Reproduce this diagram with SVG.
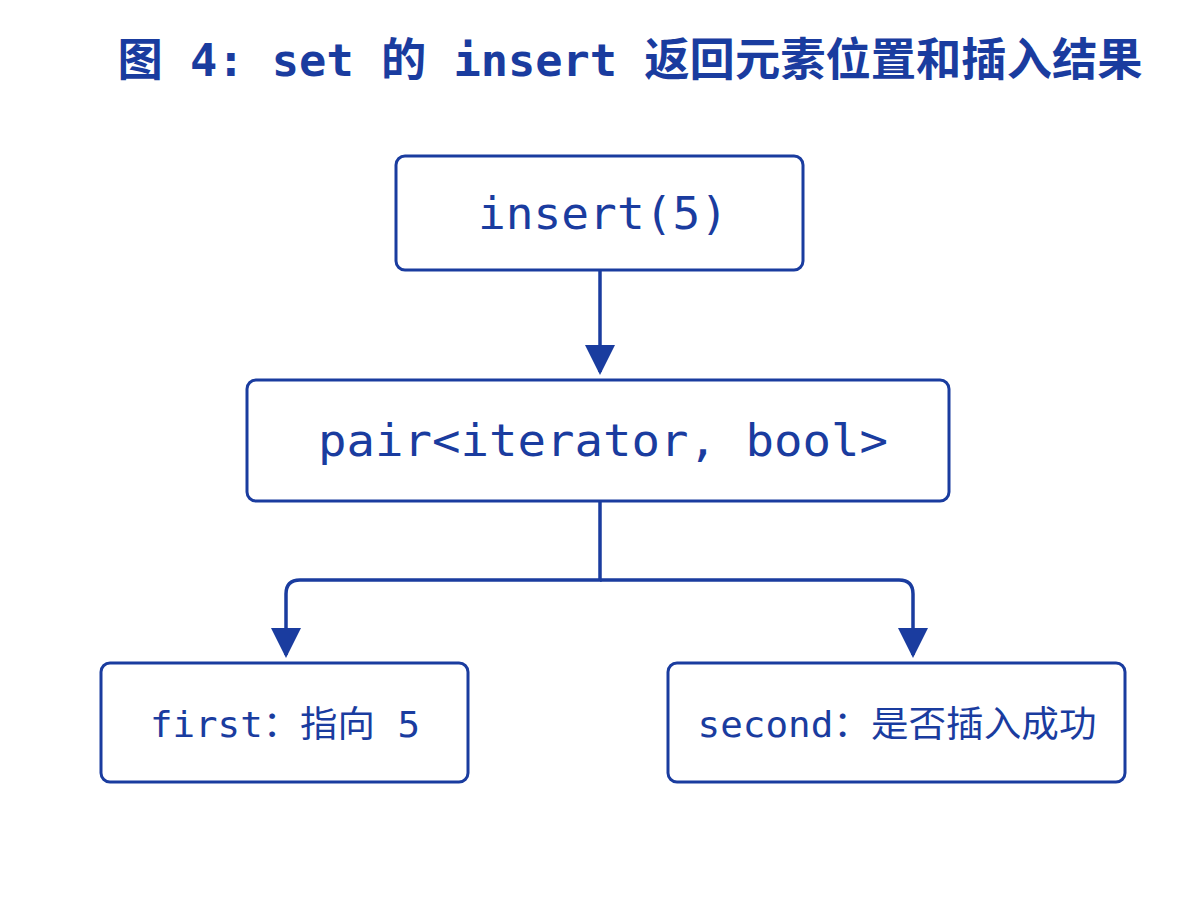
<svg xmlns="http://www.w3.org/2000/svg" width="1200" height="900" viewBox="0 0 1200 900">
<style>
.box{fill:#fff;stroke:#1a3c9f;stroke-width:3}
.t{fill:#1a3c9f;font-family:"DejaVu Sans Mono","Noto Sans CJK SC",monospace;text-anchor:middle;dominant-baseline:central}
.c{fill:none;stroke:#1a3c9f;stroke-width:3.5}
</style>
<defs>
<marker id="b" viewBox="0 0 10 10" refX="9" refY="5" markerWidth="34" markerHeight="30" orient="auto" markerUnits="userSpaceOnUse"><path d="M0,0L10,5L0,10z" fill="#1a3c9f"/></marker></defs>
<rect width="1200" height="900" fill="#fff"/>
<text class="t" x="630" y="60" font-size="45" font-weight="bold" textLength="1025" lengthAdjust="spacingAndGlyphs">图 4: set 的 insert 返回元素位置和插入结果</text>
<g id="connectors">
<path class="c" d="M600,270V372" marker-end="url(#b)"/>
<path class="c" d="M600,501V580H300Q286,580 286,594V655" marker-end="url(#b)"/>
<path class="c" d="M600,580H899Q913,580 913,594V655" marker-end="url(#b)"/>
</g>
<g id="n1"><rect class="box" x="396" y="156" width="407" height="114" rx="9"/><text class="t" x="603" y="213" font-size="44" textLength="250" lengthAdjust="spacingAndGlyphs">insert(5)</text></g>
<g id="n2"><rect class="box" x="247" y="380" width="702" height="121" rx="9"/><text class="t" x="603" y="440" font-size="44" textLength="570" lengthAdjust="spacingAndGlyphs">pair&lt;iterator, bool&gt;</text></g>
<g id="n3"><rect class="box" x="101" y="663" width="367" height="119" rx="9"/><text class="t" x="285" y="724" font-size="36" textLength="270" lengthAdjust="spacingAndGlyphs">first：指向 5</text></g>
<g id="n4"><rect class="box" x="668" y="663" width="457" height="119" rx="9"/><text class="t" x="897" y="724" font-size="36" textLength="399" lengthAdjust="spacingAndGlyphs">second：是否插入成功</text></g>
</svg>
